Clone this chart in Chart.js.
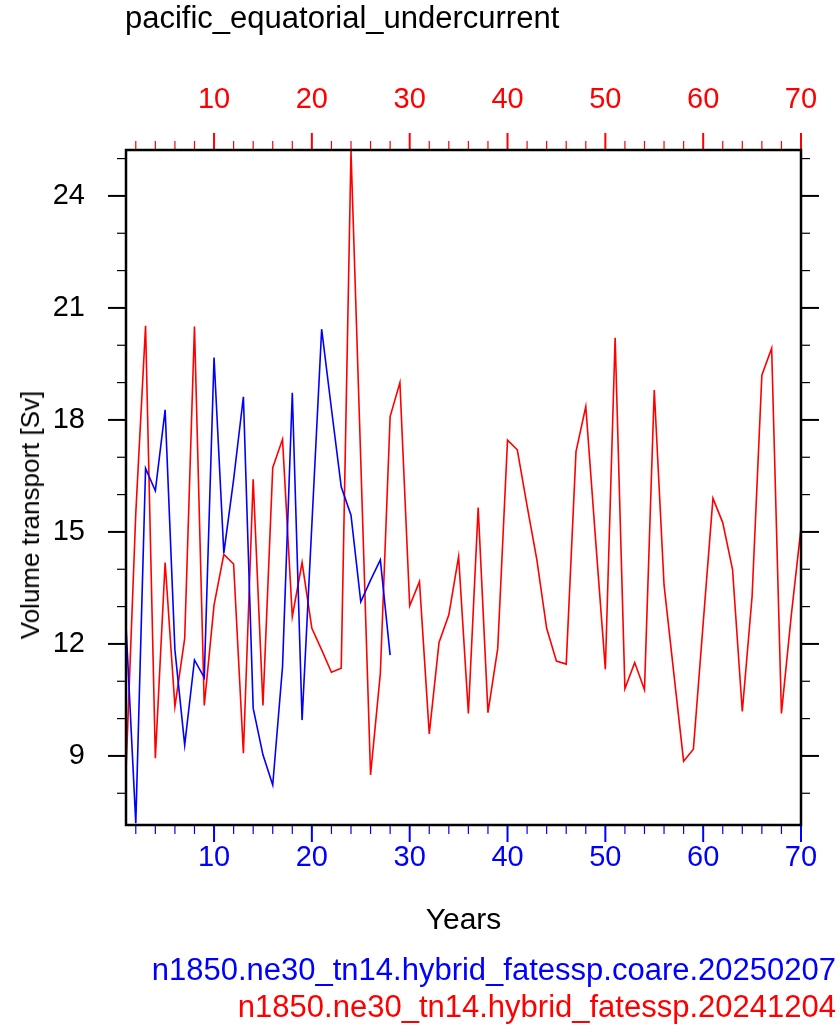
<!DOCTYPE html>
<html>
<head>
<meta charset="utf-8">
<title>pacific_equatorial_undercurrent</title>
<script src="https://cdn.jsdelivr.net/npm/chart.js@4/dist/chart.umd.min.js"></script>
<style>
  html, body { margin: 0; padding: 0; background: #fff; }
  #wrap { position: relative; width: 840px; height: 1036px; }
  #chart { position: absolute; left: 0; top: 0; }
  .txt {
    position: absolute;
    font-family: "Liberation Sans", Arial, Helvetica, sans-serif;
    white-space: nowrap;
    line-height: 34px;
  }
  #title { left: 125px; top: 1px; font-size: 31px; color: #000; }
  #ytitle {
    left: 30px; top: 515px; font-size: 26px; color: #000;
    transform: translate(-50%, -50%) rotate(-90deg);
  }
  #leg1 { right: 4px; top: 953px; font-size: 31px; color: #0000ff; }
  #leg2 { right: 4px; top: 990px; font-size: 31px; color: #ff0000; }
</style>
</head>
<body>
<div id="wrap">
  <canvas id="chart" width="840" height="1036"></canvas>
  <div class="txt" id="title">pacific_equatorial_undercurrent</div>
  <div class="txt" id="ytitle">Volume transport [Sv]</div>
  <div class="txt" id="leg1">n1850.ne30_tn14.hybrid_fatessp.coare.20250207</div>
  <div class="txt" id="leg2">n1850.ne30_tn14.hybrid_fatessp.20241204</div>
</div>
<script>
// model years (x)
const years = [
  1, 2, 3, 4, 5, 6, 7, 8, 9, 10, 11, 12, 13, 14, 15, 16, 17, 18, 19, 20,
  21, 22, 23, 24, 25, 26, 27, 28, 29, 30, 31, 32, 33, 34, 35, 36, 37, 38, 39, 40,
  41, 42, 43, 44, 45, 46, 47, 48, 49, 50, 51, 52, 53, 54, 55, 56, 57, 58, 59, 60,
  61, 62, 63, 64, 65, 66, 67, 68, 69, 70
];

// volume transport [Sv], coare run (blue, 28 years)
const coareTransport = [
  12.5, 7.2, 16.7, 16.1, 18.27, 11.84, 9.29, 11.57, 11.1, 19.67,
  14.43, 16.4, 18.62, 10.28, 9.03, 8.22, 11.39, 18.73, 9.96, 15.2,
  20.43, 18.3, 16.21, 15.45, 13.13, 13.71, 14.25, 11.7
];

// volume transport [Sv], reference run (red, 70 years)
const baseTransport = [
  8.6, 15.5, 20.52, 8.94, 14.18, 10.32, 12.15, 20.5, 10.35, 13.04,
  14.4, 14.14, 9.07, 16.41, 10.35, 16.72, 17.48, 12.73, 14.18, 12.42,
  11.84, 11.24, 11.35, 25.2, 16.9, 8.49, 11.21, 18.09, 19.0, 13.02,
  13.67, 9.59, 12.04, 12.78, 14.34, 10.14, 15.65, 10.16, 11.88, 17.46,
  17.2, 15.7, 14.25, 12.42, 11.54, 11.46, 17.15, 18.36, 14.8, 11.32,
  20.2, 10.8, 11.5, 10.77, 18.8, 13.58, 11.21, 8.86, 9.18, 12.55,
  15.9, 15.25, 14.0, 10.19, 13.27, 19.2, 19.92, 10.14, 12.75, 15.1
];

const yearTicks = [10, 20, 30, 40, 50, 60, 70];
const transportTicks = [9, 12, 15, 18, 21, 24];
const transportRange = [7.15, 25.23];

const FONT = '"Liberation Sans", Arial, Helvetica, sans-serif';
const BLUE = '#0000ff';
const RED = '#ff0000';

function toPoints(values) {
  return values.map((v, i) => ({ x: years[i], y: v }));
}

function fixTicks(values) {
  return scale => { scale.ticks = values.map(v => ({ value: v })); };
}

// fixed box size, and no extra room for edge labels
function fixSize(w, h) {
  return scale => {
    if (w !== null) scale.width = w;
    if (h !== null) scale.height = h;
    scale.paddingLeft = scale.paddingRight = 0;
    scale.paddingTop = scale.paddingBottom = 0;
  };
}

// NCL-like frame with outward major/minor tick marks
const frameAndTicks = {
  id: 'frameAndTicks',
  afterDraw(chart) {
    const { ctx, chartArea: a, scales } = chart;
    const line = (x1, y1, x2, y2) => {
      ctx.beginPath();
      ctx.moveTo(x1, y1);
      ctx.lineTo(x2, y2);
      ctx.stroke();
    };
    ctx.save();

    // year ticks every 2, labelled every 10
    for (let v = 2; v <= 70; v += 2) {
      const px = scales.x.getPixelForValue(v);
      const major = v % 10 === 0;
      const len = major ? 17 : 9;
      ctx.lineWidth = major ? 2 : 1.2;
      ctx.strokeStyle = BLUE;
      line(px, a.bottom, px, a.bottom + len);
      ctx.strokeStyle = RED;
      line(px, a.top, px, a.top - len);
    }

    // transport ticks every 1, labelled every 3
    ctx.strokeStyle = '#000';
    for (let v = 8; v <= 25; v++) {
      const py = scales.y.getPixelForValue(v);
      const major = v % 3 === 0;
      const len = major ? 18 : 9;
      ctx.lineWidth = major ? 2 : 1.2;
      line(a.left - len, py, a.left, py);
      line(a.right, py, a.right + len, py);
    }

    ctx.lineWidth = 2.5;
    ctx.strokeRect(a.left, a.top, a.right - a.left, a.bottom - a.top);
    ctx.restore();
  }
};

new Chart(document.getElementById('chart'), {
  type: 'line',
  data: {
    datasets: [
      {
        label: 'n1850.ne30_tn14.hybrid_fatessp.coare.20250207',
        data: toPoints(coareTransport),
        borderColor: BLUE,
        borderWidth: 1.6,
        pointRadius: 0,
        tension: 0,
        xAxisID: 'x',
        yAxisID: 'y'
      },
      {
        label: 'n1850.ne30_tn14.hybrid_fatessp.20241204',
        data: toPoints(baseTransport),
        borderColor: RED,
        borderWidth: 1.6,
        pointRadius: 0,
        tension: 0,
        xAxisID: 'x2',
        yAxisID: 'y'
      }
    ]
  },
  options: {
    responsive: false,
    animation: false,
    devicePixelRatio: 1,
    layout: { padding: { top: 50, right: 39, bottom: 90, left: 0 } },
    plugins: {
      legend: { display: false },
      tooltip: { enabled: false },
      title: { display: false }
    },
    scales: {
      x: {
        type: 'linear',
        position: 'bottom',
        min: 1,
        max: 70,
        afterBuildTicks: fixTicks(yearTicks),
        afterFit: fixSize(null, 121),
        grid: { display: false, drawTicks: false },
        border: { display: false },
        ticks: {
          color: BLUE,
          font: { family: FONT, size: 29 },
          padding: 16,
          maxRotation: 0,
          autoSkip: false
        },
        title: {
          display: true,
          text: 'Years',
          color: '#000',
          font: { family: FONT, size: 30 },
          padding: { top: 0, bottom: 7 }
        }
      },
      x2: {
        type: 'linear',
        position: 'top',
        min: 1,
        max: 70,
        afterBuildTicks: fixTicks(yearTicks),
        afterFit: fixSize(null, 100),
        grid: { display: false, drawTicks: false },
        border: { display: false },
        ticks: {
          color: RED,
          font: { family: FONT, size: 29 },
          padding: 33,
          maxRotation: 0,
          autoSkip: false
        }
      },
      y: {
        type: 'linear',
        position: 'left',
        min: transportRange[0],
        max: transportRange[1],
        afterBuildTicks: fixTicks(transportTicks),
        afterFit: fixSize(126, null),
        grid: { display: false, drawTicks: false },
        border: { display: false },
        ticks: {
          color: '#000',
          font: { family: FONT, size: 29 },
          padding: 41
        }
      }
    }
  },
  plugins: [frameAndTicks]
});
</script>
</body>
</html>
